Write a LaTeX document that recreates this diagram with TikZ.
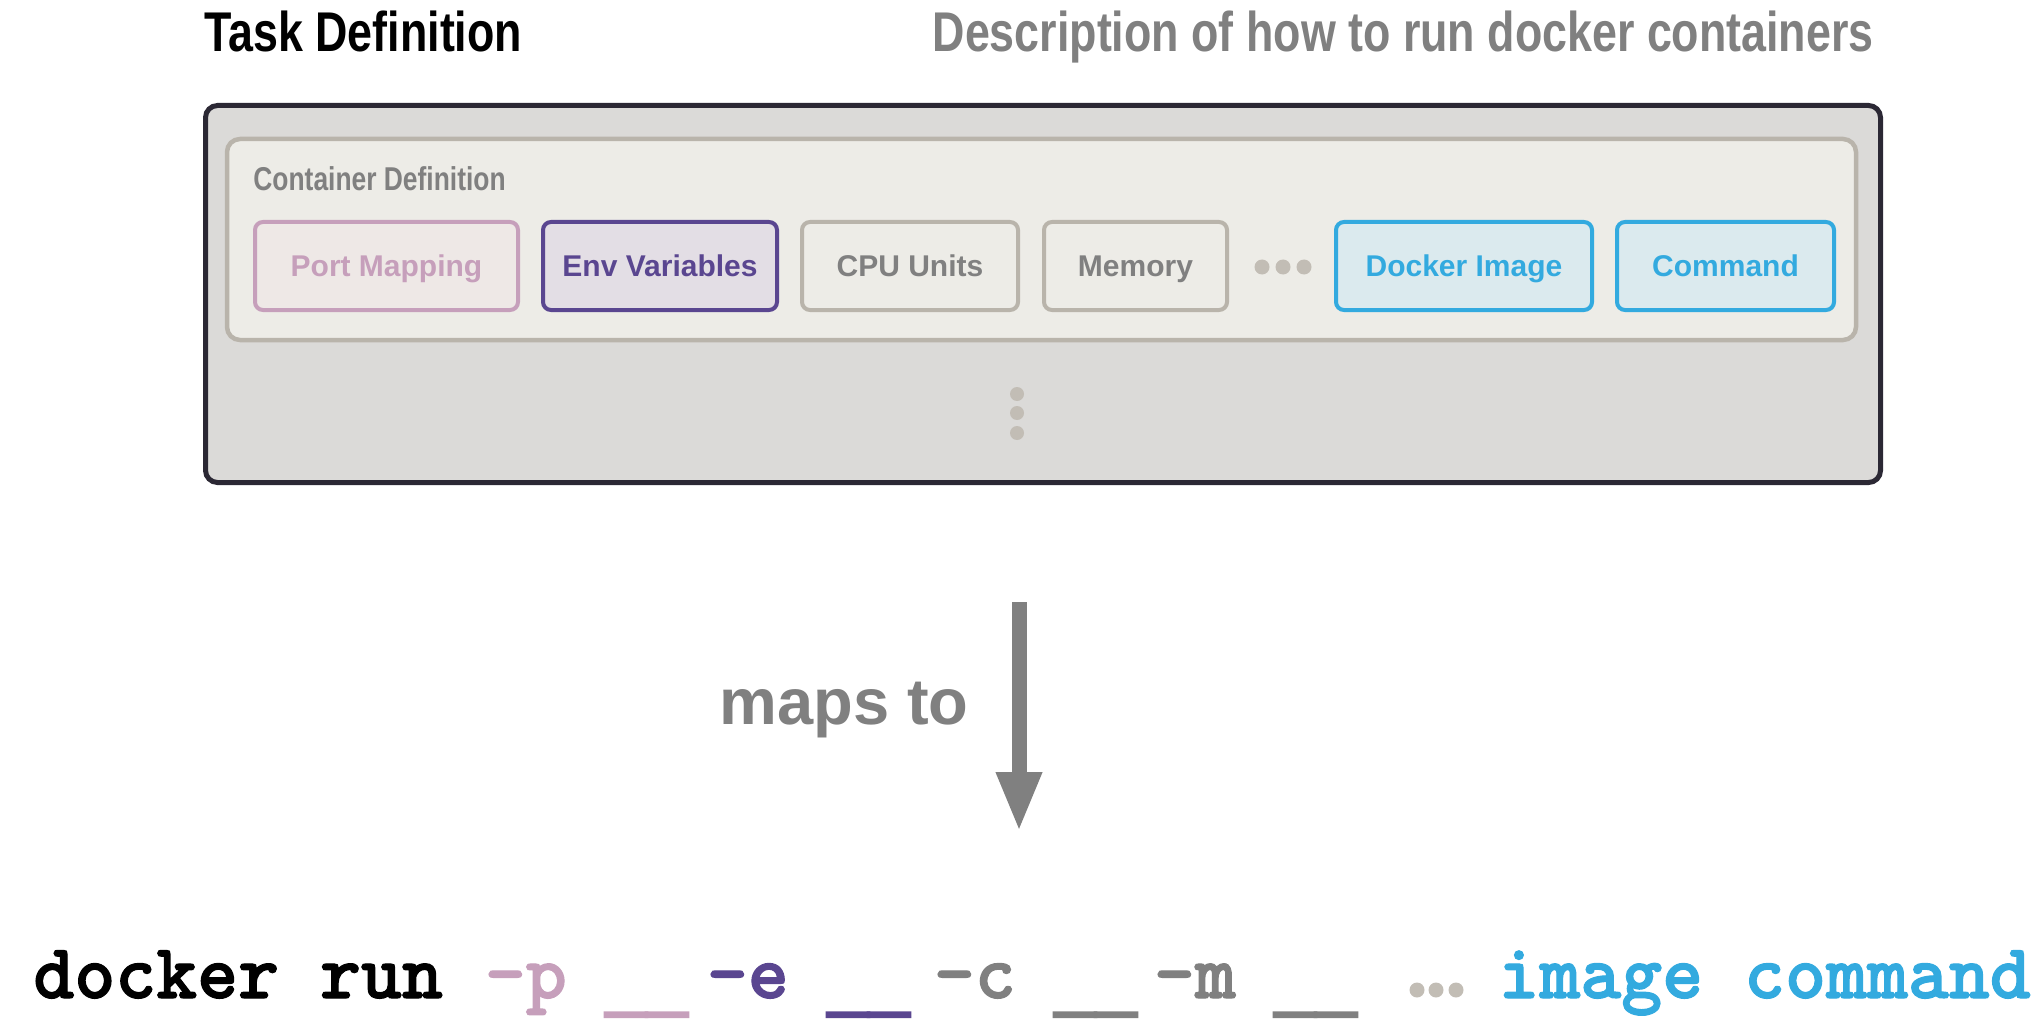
\documentclass[tikz,border=0pt]{standalone}
\usepackage{fontspec}
\setmainfont{Liberation Sans}
\newfontfamily\condbf[FakeStretch=0.8]{Liberation Sans Bold}
\newfontfamily\sansbf{Liberation Sans Bold}
\newfontfamily\monobf[Extension=.otf, FakeBold=1.5]{lmmonolt10-bold}
\newfontfamily\ulfont[FakeBold=5]{Liberation Mono Bold}
\usetikzlibrary{arrows.meta}
\definecolor{pinkc}{HTML}{C69FBB}
\definecolor{pinkfill}{HTML}{EEE8E6}
\definecolor{purplec}{HTML}{5A4690}
\definecolor{purplefill}{HTML}{E3DEE5}
\definecolor{grayline}{HTML}{B9B4AB}
\definecolor{graytext}{HTML}{808080}
\definecolor{innerfill}{HTML}{EDECE7}
\definecolor{outerfill}{HTML}{DBDAD8}
\definecolor{outerline}{HTML}{2B2834}
\definecolor{bluec}{HTML}{33AADF}
\definecolor{bluefill}{HTML}{DBEAEE}
\definecolor{dotc}{HTML}{C2BDB5}
\begin{document}
\begin{tikzpicture}[x=0.5pt,y=-0.5pt,
  titletext/.style={inner sep=0pt, font=\condbf\fontsize{28pt}{32pt}\selectfont},
  outerbox/.style={draw=outerline, fill=outerfill, line width=2.5pt, rounded corners=6pt,
    minimum width=837.5pt, minimum height=188.5pt, inner sep=0pt},
  innerbox/.style={draw=grayline, fill=innerfill, line width=2.25pt, rounded corners=6.5pt,
    minimum width=814.5pt, minimum height=100.5pt, inner sep=0pt},
  item/.style={draw, line width=2pt, rounded corners=4pt, minimum height=44pt,
    text height=10.5pt, text depth=0pt, inner sep=0pt,
    font=\sansbf\fontsize{15pt}{18pt}\selectfont},
  mono/.style={anchor=base west, inner sep=0pt, font=\monobf\fontsize{39pt}{44pt}\selectfont},
  blank/.style={anchor=base west, inner sep=0pt, font=\ulfont\fontsize{34.25pt}{40pt}\selectfont},
  dot/.style={fill=dotc}
]
\useasboundingbox (0,0) rectangle (2044,1032);

% titles
\node[titletext, anchor=base west] (tasktitle) at (204,52) {Task Definition};
\node[titletext, anchor=base east, text=graytext] (desc) at (1874,52) {Description of how to run docker containers};

% boxes
\node[outerbox] (task) at (1043,294) {};
\node[innerbox] (cont) at (1041.5,239.5) {};
\node[anchor=base west, inner sep=0pt, text=graytext, font=\condbf\fontsize{16.5pt}{20pt}\selectfont] (conttitle) at (253,191) {Container Definition};

\node[item, draw=pinkc, fill=pinkfill, text=pinkc, minimum width=131.5pt] (port) at (386.5,266) {Port Mapping};
\node[item, draw=purplec, fill=purplefill, text=purplec, minimum width=117pt] (env) at (660,266) {Env Variables};
\node[item, draw=grayline, fill=innerfill, text=graytext, minimum width=108pt] (cpu) at (910,266) {CPU Units};
\node[item, draw=grayline, fill=innerfill, text=graytext, minimum width=91.5pt] (mem) at (1135.5,266) {Memory};
\node[item, draw=bluec, fill=bluefill, text=bluec, minimum width=128pt] (img) at (1464,266) {Docker Image};
\node[item, draw=bluec, fill=bluefill, text=bluec, minimum width=108.5pt] (cmd) at (1725.5,266) {Command};

% dots
\fill[dot] (1262,267) circle[radius=3.75pt];
\fill[dot] (1283,267) circle[radius=3.75pt];
\fill[dot] (1304,267) circle[radius=3.75pt];
\fill[dot] (1017,394) circle[radius=3.5pt];
\fill[dot] (1017,413) circle[radius=3.5pt];
\fill[dot] (1017,433) circle[radius=3.5pt];

% arrow
\coordinate (arrowtop) at (1019,602);
\coordinate (arrowtip) at (1019,832);
\draw[graytext, line width=7.5pt, -{Triangle[width=21pt,length=30pt]}] (arrowtop) -- (arrowtip);
\node[anchor=base west, inner sep=0pt, text=graytext, font=\sansbf\fontsize{32.5pt}{38pt}\selectfont] (maps) at (719,724) {maps to};

% command line
\node[mono] (dr) at (33,998) {docker run};
\node[mono, text=pinkc] (fp) at (484.5,998) {-p};
\node[blank, text=pinkc] (up) at (605,998) {\raisebox{-5.5pt}{\_\_}};
\node[mono, text=purplec] (fe) at (706.5,998) {-e};
\node[blank, text=purplec] (ue) at (827,998) {\raisebox{-5.5pt}{\_\_}};
\node[mono, text=graytext] (fc) at (933.5,998) {-c};
\node[blank, text=graytext] (uc) at (1054,998) {\raisebox{-5.5pt}{\_\_}};
\node[mono, text=graytext] (fm) at (1153.5,998) {-m};
\node[blank, text=graytext] (um) at (1274,998) {\raisebox{-5.5pt}{\_\_}};
\fill[dot] (1417,990) circle[radius=3.75pt];
\fill[dot] (1436,990) circle[radius=3.75pt];
\fill[dot] (1456,990) circle[radius=3.75pt];
\node[mono, text=bluec] (ic) at (1498,998) {image command};
\end{tikzpicture}
\end{document}
